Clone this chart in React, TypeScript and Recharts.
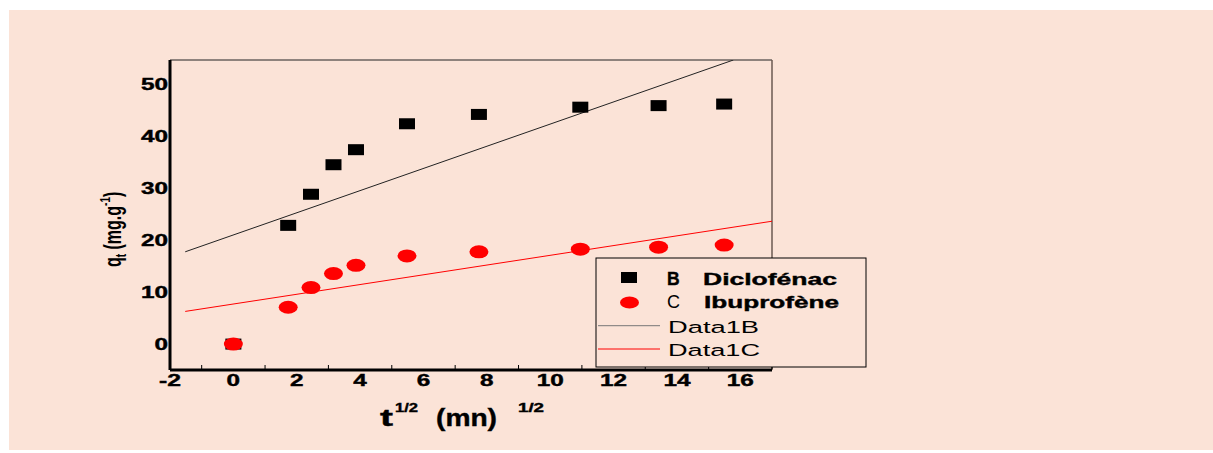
import { ComposedChart, Scatter, XAxis, YAxis, ReferenceLine } from 'recharts'

// t^1/2 values (mn^1/2)
const sqrtTime = [0, 1.73, 2.45, 3.16, 3.87, 5.48, 7.75, 10.95, 13.42, 15.49]
const diclofenac = [0, 22.9, 28.9, 34.6, 37.5, 42.5, 44.3, 45.7, 46.0, 46.3]
const ibuprofene = [0, 7.1, 10.9, 13.6, 15.2, 17.0, 17.8, 18.3, 18.7, 19.1]

// fitted lines (end points)
const fitX = { B: [-1.52, 15.78], C: [-1.52, 17.0] }
const fitY = { B: [17.8, 54.8], C: [6.3, 23.7] }

const xTicks = [-2, -1, 0, 1, 2, 3, 4, 5, 6, 7, 8, 9, 10, 11, 12, 13, 14, 15, 16, 17]
const yTicks = [0, 10, 20, 30, 40, 50]

const BG = '#fbe3d7'
const FONT = '"Liberation Sans", Arial, sans-serif'

const pointsB = sqrtTime.map((x, i) => ({ x, y: diclofenac[i] }))
const pointsC = sqrtTime.map((x, i) => ({ x, y: ibuprofene[i] }))
const lineB = fitX.B.map((x, i) => ({ x, y: fitY.B[i] }))
const lineC = fitX.C.map((x, i) => ({ x, y: fitY.C[i] }))

const numWidth = (s: string) => s.replace('-', '').length * 13.5 + (s.startsWith('-') ? 8.5 : 0)

// stretched bold text, a bit heavier like the original export
const heavy = { stroke: '#000', strokeWidth: 0.4 }

const XTick = (props: any) => {
  const { x, y, payload } = props
  const v = payload.value
  if (v % 2 !== 0) {
    return <line x1={x} x2={x} y1={y - 1} y2={y - 5} stroke="#000" strokeWidth={1} />
  }
  const s = String(v)
  return (
    <text x={x} y={y + 16} textAnchor="middle" fontFamily={FONT} fontWeight="bold" fontSize={16}
      textLength={numWidth(s)} lengthAdjust="spacingAndGlyphs" fill="#000" {...heavy}>
      {s}
    </text>
  )
}

const YTick = (props: any) => {
  const { x, y, payload } = props
  const s = String(payload.value)
  return (
    <text x={x - 2} y={y + 5.5} textAnchor="end" fontFamily={FONT} fontWeight="bold" fontSize={16}
      textLength={numWidth(s)} lengthAdjust="spacingAndGlyphs" fill="#000" {...heavy}>
      {s}
    </text>
  )
}

const Square = (p: any) => <rect x={p.cx - 8} y={p.cy - 5.5} width={16} height={11} fill="#000" />
const Dot = (p: any) => <ellipse cx={p.cx} cy={p.cy} rx={9.5} ry={6.5} fill="#ff0000" />
const NoShape = () => <g />

export default function App() {
  return (
    <div style={{ position: 'absolute', left: 0, top: 0, width: 1213, height: 453 }}>
      <div style={{ position: 'absolute', left: 9, top: 10, width: 1204, height: 440, background: BG }} />
      <div style={{ position: 'absolute', left: 0, top: 0 }}>
        <ComposedChart width={1213} height={453} margin={{ top: 60, right: 441, bottom: 53, left: 110 }}>
          <XAxis type="number" dataKey="x" domain={[-2, 17]} ticks={xTicks} interval={0} allowDataOverflow
            height={30} tick={<XTick />} tickLine={false} tickSize={0} tickMargin={0}
            axisLine={{ stroke: '#000', strokeWidth: 3 }} />
          <YAxis type="number" dataKey="y" domain={[-5, 54.8]} ticks={yTicks} interval={0} allowDataOverflow
            width={60} tick={<YTick />} tickLine={false} tickSize={0} tickMargin={0}
            axisLine={{ stroke: '#000', strokeWidth: 3 }} />
          <ReferenceLine y={54.8} stroke="#222" strokeWidth={1} />
          <ReferenceLine x={17} stroke="#6b5a52" strokeWidth={1.5} />
          <Scatter data={lineB} line={{ stroke: '#222', strokeWidth: 1 }} shape={<NoShape />} isAnimationActive={false} />
          <Scatter data={lineC} line={{ stroke: '#ff0000', strokeWidth: 1 }} shape={<NoShape />} isAnimationActive={false} />
          <Scatter data={pointsB} shape={Square} isAnimationActive={false} />
          <Scatter data={pointsC} shape={Dot} isAnimationActive={false} />
        </ComposedChart>
      </div>
      <svg width={1213} height={453} style={{ position: 'absolute', left: 0, top: 0, pointerEvents: 'none' }}>
        {/* y axis title */}
        <text transform="translate(121, 267) rotate(-90) scale(1, 1.55)" fontFamily={FONT} fontWeight="bold" fontSize={16} fill="#000">
          <tspan>q</tspan>
          <tspan fontSize={10} dy={3}>t</tspan>
          <tspan dy={-3}> (mg.g</tspan>
          <tspan fontSize={10} dy={-7}>-1</tspan>
          <tspan dy={7}>)</tspan>
        </text>
        {/* x axis title */}
        <text fontFamily={FONT} fontWeight="bold" fill="#000" {...heavy}>
          <tspan x={380} y={426} fontSize={24} textLength={13} lengthAdjust="spacingAndGlyphs">t</tspan>
          <tspan x={395} y={412} fontSize={12.5} textLength={23} lengthAdjust="spacingAndGlyphs">1/2</tspan>
          <tspan x={436} y={426} fontSize={24} textLength={61} lengthAdjust="spacingAndGlyphs">(mn)</tspan>
          <tspan x={518} y={412} fontSize={12.5} textLength={26} lengthAdjust="spacingAndGlyphs">1/2</tspan>
        </text>
        {/* legend */}
        <rect x={596} y={258} width={270} height={109} fill={BG} stroke="#000" strokeWidth={1} />
        <rect x={621} y={272} width={16} height={11} fill="#000" />
        <ellipse cx={629.5} cy={302.5} rx={9.5} ry={6} fill="#ff0000" />
        <line x1={598} x2={660} y1={325.7} y2={325.7} stroke="#777" strokeWidth={1} />
        <line x1={598} x2={660} y1={349} y2={349} stroke="#ff0000" strokeWidth={1} />
        <g fontFamily={FONT} fontSize={17.2} fill="#000">
          <text x={667} y={285} fontWeight="bold" fontSize={17.5} {...heavy}>B</text>
          <text x={703} y={285} fontWeight="bold" textLength={134} lengthAdjust="spacingAndGlyphs" {...heavy}>Diclofénac</text>
          <text x={667} y={308} fontSize={18}>C</text>
          <text x={704} y={308} fontWeight="bold" textLength={135} lengthAdjust="spacingAndGlyphs" {...heavy}>Ibuprofène</text>
          <text x={668} y={332.5} textLength={91} lengthAdjust="spacingAndGlyphs">Data1B</text>
          <text x={668} y={356} textLength={92} lengthAdjust="spacingAndGlyphs">Data1C</text>
        </g>
      </svg>
    </div>
  )
}
